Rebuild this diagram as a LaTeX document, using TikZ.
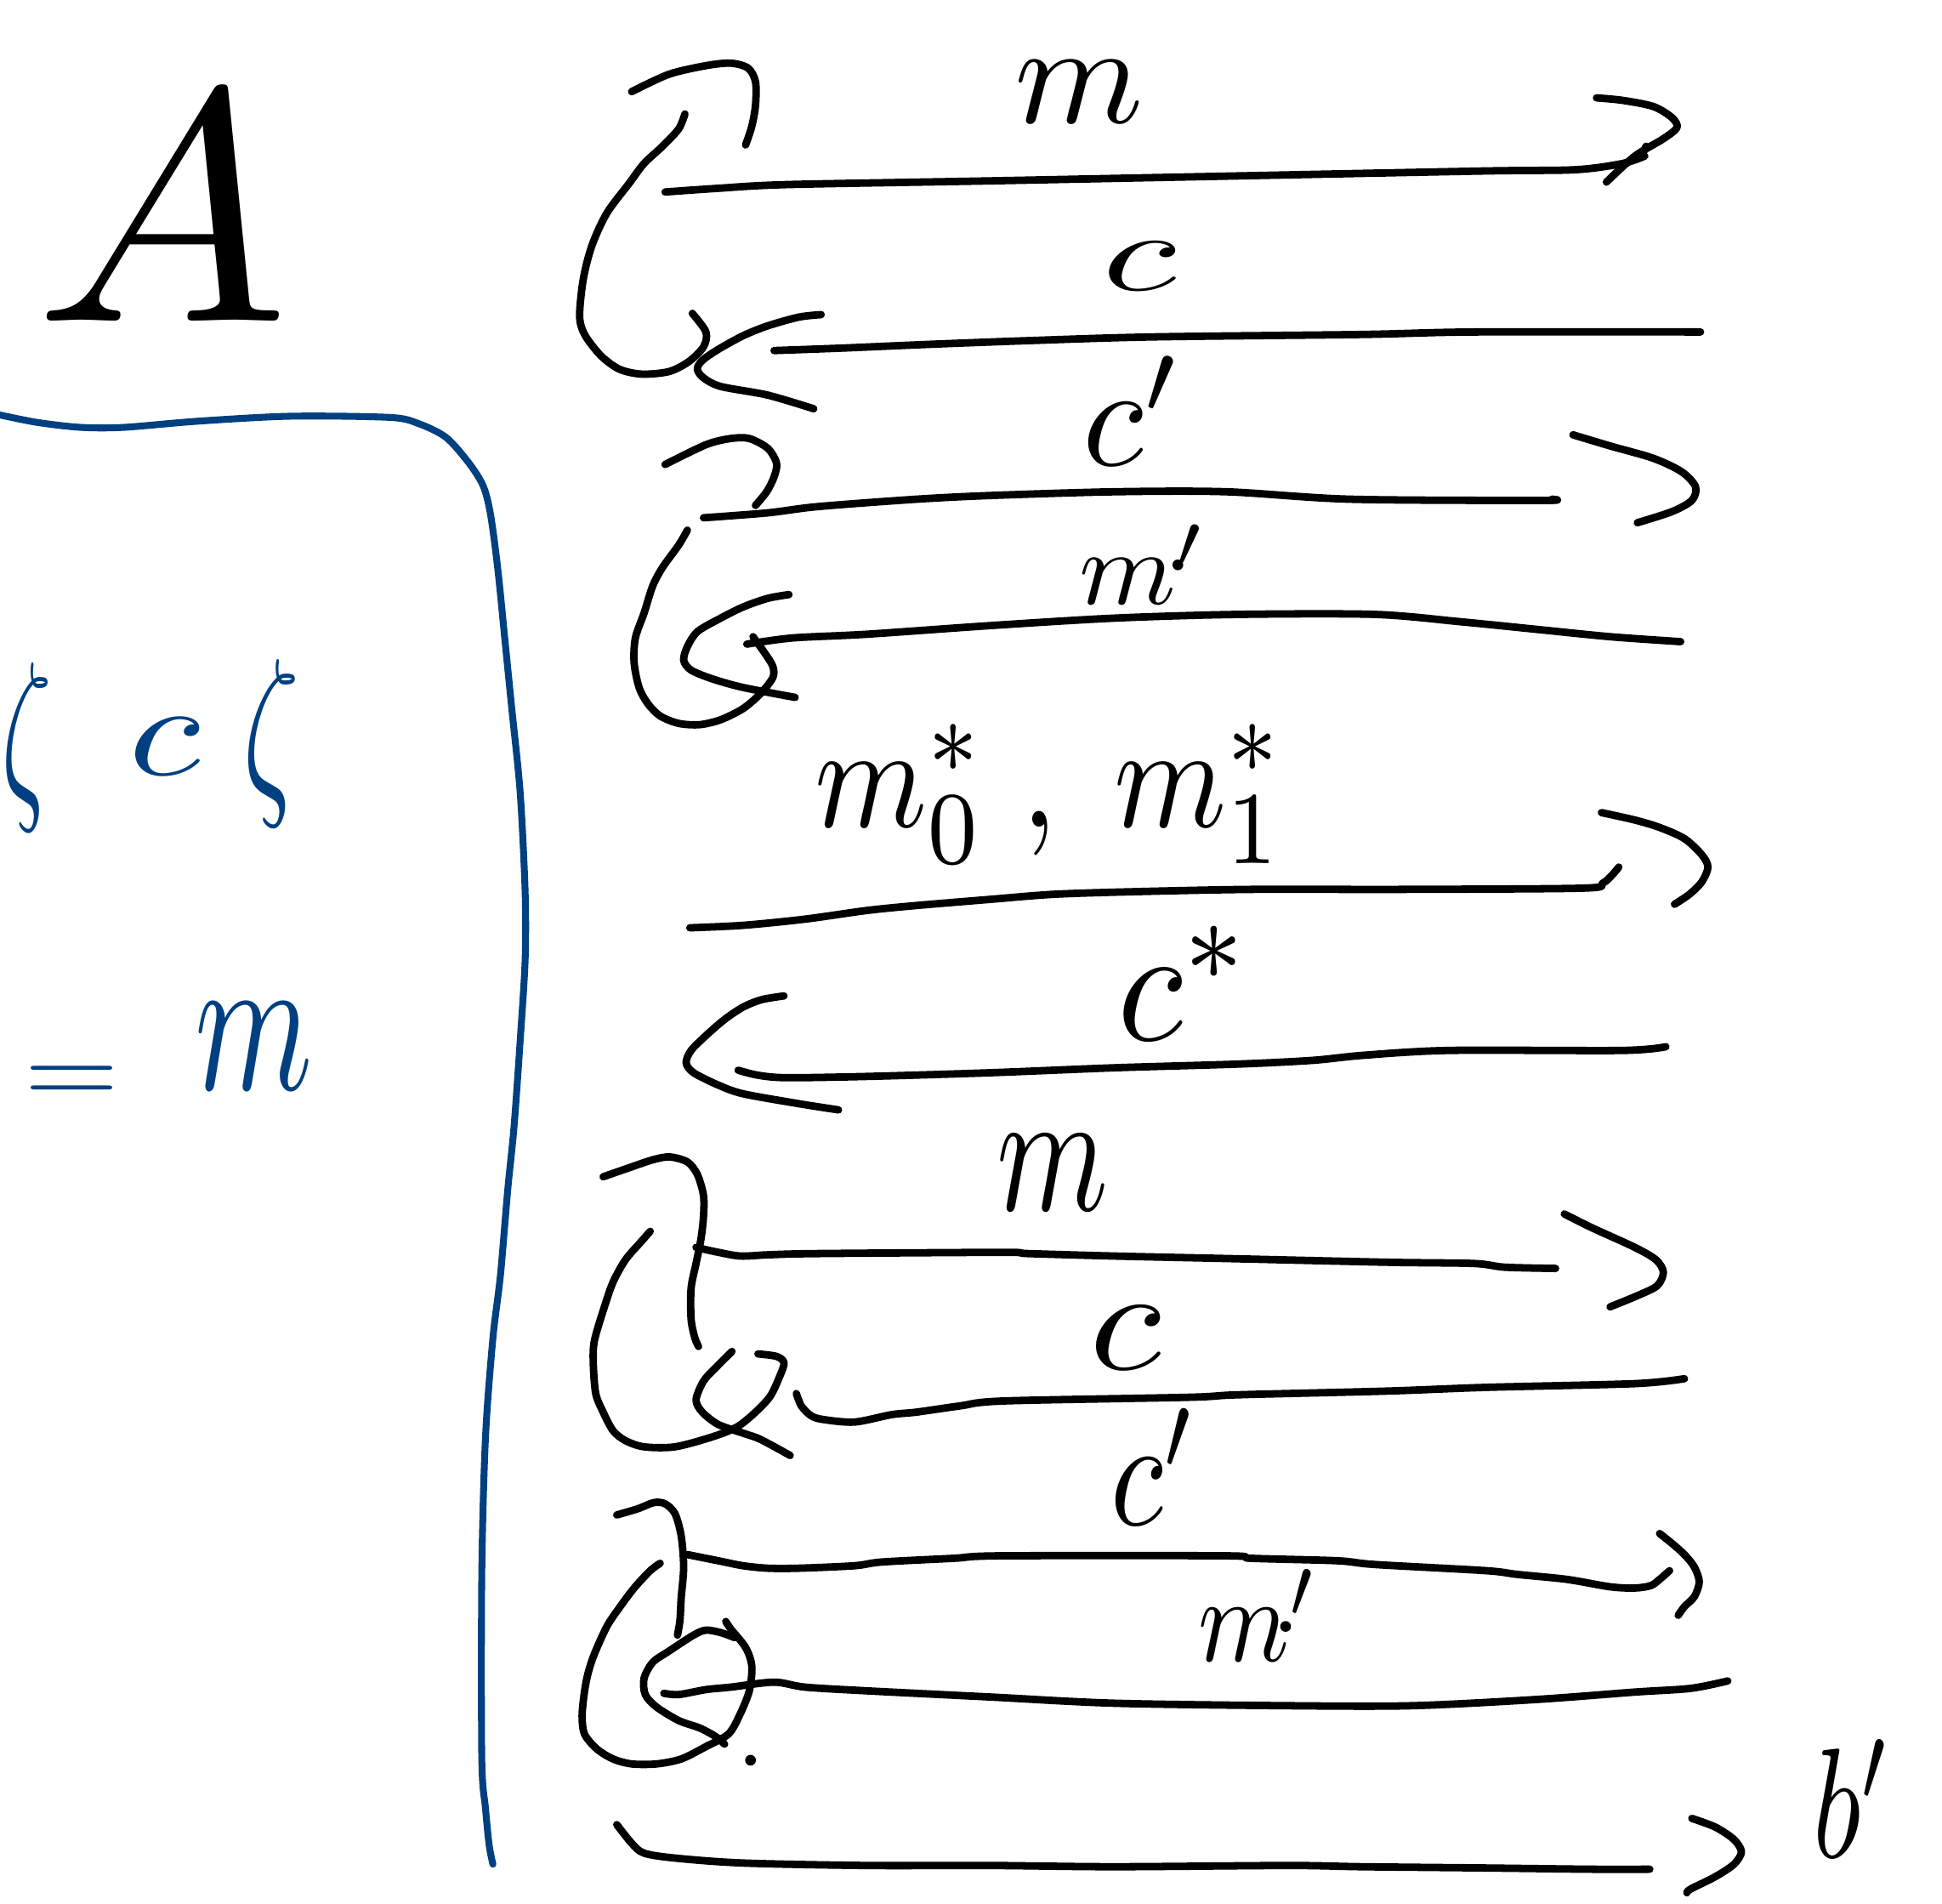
\documentclass[tikz,border=0pt]{standalone}
\usepackage{graphicx}
\definecolor{blueink}{RGB}{0,64,128}
\newlength\un
\setlength\un{0.4144pt}
\begin{document}
\begin{tikzpicture}[x=0.014566cm,y=-0.014566cm,
  ink/.style={line width=2.5pt,line cap=round,line join=round},
  bink/.style={ink,draw=blueink,line width=2.3pt},
  lbl/.style={inner sep=0pt,outer sep=0pt},
  blbl/.style={lbl,text=blueink},
  pt/.style={fill=black,inner sep=0pt,minimum size=3.6pt,circle}]
\useasboundingbox (0,0) rectangle (1568,1537);
\clip (0,0) rectangle (1568,1537);

% ---------------- A ----------------
\node[lbl] (A) at (131,168) {\resizebox{205\un}{182\un}{$A$}};

% ---------------- blue box ----------------
\draw[bink] plot[smooth,tension=0.5] coordinates {(0,335) (30,341) (65,345) (100,345) (160,340) (235,336) (315,337) (338,342) (360,353) (378,373) (390,392) (396,415) (402,460) (408,520) (413,570) (420,640) (424,720) (424,775) (420,840) (415,910) (410,960) (404,1030) (398,1080) (392,1160) (389,1270) (389,1420) (392,1460) (395,1490) (398,1505)};
\node[blbl] (z1) at (22,603) {\resizebox*{40\un}{136\un}{$\zeta$}};
\node[blbl] (bc) at (133,603) {\resizebox{58\un}{46\un}{$c$}};
\node[blbl] (z2) at (219,600) {\resizebox*{45\un}{135\un}{$\zeta$}};
\node[blbl] (eq) at (58,876) {\resizebox{77\un}{30\un}{$=$}};
\node[blbl] (bm) at (205,845) {\resizebox{95\un}{70\un}{$m$}};

% ---------------- message 1: m ----------------
\coordinate (s1) at (537,155); \coordinate (e1) at (1328,126);
\draw[ink] plot[smooth,tension=0.5] coordinates {(s1) (580,152) (636,149) (800,146) (1000,142) (1200,138) (1272,137) (1310,132) (e1)};
\draw[ink] plot[smooth,tension=0.5] coordinates {(1289,79) (1310,81) (1335,86) (1350,95) (1354,103) (1343,112) (1320,126) (1297,147)};
\draw[ink] (1329,118) -- (1326,125);
\node[lbl] (m1) at (871,74) {\resizebox{104\un}{50\un}{$m$}};

% loop 1
\draw[ink] plot[smooth,tension=0.5] coordinates {(510,74) (540,60) (570,53) (590,51) (604,55) (610,66) (610,85) (607,102) (602,117)};
\draw[ink] plot[smooth,tension=0.5] coordinates {(553,92) (548,104) (535,118) (520,132) (508,148) (490,172) (478,198) (471,225) (468,255) (472,270) (485,287) (500,298) (518,302) (540,300) (556,292) (568,280) (570,268) (559,253)};

% ---------------- message 2: c ----------------
\coordinate (s2) at (1373,268); \coordinate (e2) at (625,283);
\draw[ink] plot[smooth,tension=0.5] coordinates {(e2) (680,281) (750,278) (830,275) (930,272) (1100,270) (1190,268) (s2)};
\draw[ink] plot[smooth,tension=0.5] coordinates {(663,254) (645,256) (620,263) (600,271) (580,282) (567,291) (563,298) (568,305) (582,312) (620,319) (657,330)};
\node[lbl] (c2) at (920,215) {\resizebox{60\un}{39\un}{$c$}};

% ---------------- message 3: c' ----------------
\coordinate (s3) at (568,418); \coordinate (e3) at (1253,403);
\draw[ink] plot[smooth,tension=0.5] coordinates {(s3) (620,414) (660,409) (740,403) (800,400) (900,397) (990,397) (1090,403) (1245,404) (e3)};
\draw[ink] plot[smooth,tension=0.5] coordinates {(1270,351) (1300,360) (1335,370) (1358,381) (1369,393) (1366,404) (1350,413) (1322,422)};
\node[lbl] (c3) at (915,332) {\resizebox{81\un}{88\un}{$c'$}};

% loop 2
\draw[ink] plot[smooth,tension=0.5] coordinates {(537,375) (570,359) (590,354) (605,354) (620,362) (627,374) (625,385) (619,397) (610,408)};
\draw[ink] plot[smooth,tension=0.5] coordinates {(555,428) (548,440) (535,458) (527,473) (520,495) (513,515) (512,535) (516,555) (523,568) (533,578) (548,584) (565,585) (582,581) (600,572) (614,560) (624,547) (624,538) (618,528) (608,514)};

% ---------------- message 4: m' ----------------
\coordinate (s4) at (1357,518); \coordinate (e4) at (603,520);
\draw[ink] plot[smooth,tension=0.5] coordinates {(e4) (640,515) (700,512) (800,505) (900,499) (1000,496) (1110,496) (1180,502) (1240,508) (1300,514) (s4)};
\draw[ink] plot[smooth,tension=0.5] coordinates {(637,480) (620,483) (600,490) (580,500) (563,510) (555,522) (552,533) (558,541) (575,548) (600,555) (642,563)};
\node[lbl] (m4) at (923,456) {\resizebox{103\un}{64\un}{$m'$}};
\node[pt] (d1) at (951,456) {};

% ---------------- message 5: m0*, m1* ----------------
\coordinate (s5) at (557,749); \coordinate (e5) at (1307,700);
\draw[ink] plot[smooth,tension=0.5] coordinates {(s5) (600,747) (650,742) (700,735) (740,731) (800,726) (850,722) (910,720) (1010,718) (1130,718) (1278,717) (1294,713) (1302,706) (e5)};
\draw[ink] plot[smooth,tension=0.5] coordinates {(1293,656) (1320,662) (1340,668) (1360,677) (1374,690) (1379,700) (1374,712) (1364,722) (1352,730)};
\node[lbl] (m5) at (848,641) {\resizebox*{380\un}{112\un}{$m_0^*\;,\;m_1^*$}};

% ---------------- message 6: c* ----------------
\coordinate (s6) at (1345,845); \coordinate (e6) at (596,864);
\draw[ink] plot[smooth,tension=0.5] coordinates {(e6) (612,868) (635,870) (700,869) (800,866) (900,862) (1000,859) (1060,856) (1100,852) (1170,848) (1310,848) (s6)};
\draw[ink] plot[smooth,tension=0.5] coordinates {(633,804) (615,807) (600,813) (585,823) (570,836) (558,848) (554,858) (560,866) (580,876) (600,883) (645,891) (677,896)};
\node[lbl] (c6) at (957,794) {\resizebox{109\un}{92\un}{$c^*$}};

% ---------------- message 7: m ----------------
\coordinate (s7) at (562,1007); \coordinate (e7) at (1256,1024);
\draw[ink] plot[smooth,tension=0.5] coordinates {(s7) (580,1011) (598,1014) (620,1013) (660,1012) (810,1011) (830,1012) (900,1014) (990,1016) (1120,1019) (1190,1020) (1215,1023) (e7)};
\draw[ink] plot[smooth,tension=0.5] coordinates {(1263,980) (1285,991) (1320,1007) (1337,1017) (1343,1027) (1338,1038) (1322,1046) (1300,1055)};
\node[lbl] (m7) at (850,947) {\resizebox{90\un}{61\un}{$m$}};

% loop 3
\draw[ink] plot[smooth,tension=0.5] coordinates {(487,950) (510,942) (528,936) (541,934) (555,938) (563,948) (568,965) (568,982) (566,1000) (562,1020) (558,1040) (558,1065) (561,1080) (564,1087)};
\draw[ink] plot[smooth,tension=0.5] coordinates {(525,994) (518,1002) (505,1017) (495,1035) (488,1055) (480,1082) (479,1100) (481,1125) (487,1140) (495,1155) (505,1163) (520,1168) (545,1168) (575,1160) (595,1152) (610,1140) (622,1127) (630,1110) (633,1100) (627,1095) (612,1093)};

% ---------------- message 8: c ----------------
\coordinate (s8) at (1360,1113); \coordinate (e8) at (643,1125);
\draw[ink] plot[smooth,tension=0.5] coordinates {(e8) (647,1135) (655,1143) (665,1146) (690,1148) (720,1142) (740,1140) (775,1135) (810,1131) (960,1128) (1000,1126) (1120,1123) (1200,1120) (1320,1117) (s8)};
\draw[ink] plot[smooth,tension=0.5] coordinates {(591,1091) (578,1104) (568,1115) (562,1130) (567,1140) (580,1150) (600,1157) (614,1162) (638,1175)};
\node[lbl] (c8) at (909,1080) {\resizebox{58\un}{51\un}{$c$}};

% ---------------- message 9: c' ----------------
\coordinate (s9) at (555,1255); \coordinate (e9) at (1348,1268);
\draw[ink] plot[smooth,tension=0.5] coordinates {(s9) (580,1260) (600,1264) (620,1266) (645,1266) (690,1264) (712,1261) (770,1258) (808,1256) (990,1256) (1010,1258) (1080,1260) (1110,1263) (1200,1268) (1225,1271) (1265,1275) (1300,1281) (1320,1282) (1333,1280) (1340,1275) (e9)};
\draw[ink] plot[smooth,tension=0.5] coordinates {(1340,1238) (1350,1246) (1360,1255) (1368,1265) (1372,1277) (1368,1289) (1360,1297) (1355,1304)};
\node[lbl] (c9) at (932,1184) {\resizebox{70\un}{94\un}{$c'$}};

% loop 4
\draw[ink] plot[smooth,tension=0.5] coordinates {(498,1223) (515,1218) (528,1213) (537,1214) (545,1222) (550,1240) (552,1265) (550,1290) (549,1308) (547,1320)};
\draw[ink] plot[smooth,tension=0.5] coordinates {(533,1262) (525,1268) (512,1282) (500,1298) (490,1313) (480,1335) (475,1350) (472,1365) (470,1385) (472,1400) (482,1412) (495,1420) (510,1424) (530,1424) (550,1420) (570,1410) (588,1400) (597,1385) (605,1365) (607,1345) (602,1330) (590,1315) (586,1309)};

% ---------------- message 10: m' ----------------
\coordinate (s10) at (1395,1357); \coordinate (e10) at (536,1367);
\draw[ink] plot[smooth,tension=0.5] coordinates {(e10) (548,1368) (570,1364) (590,1362) (625,1358) (650,1362) (700,1365) (800,1370) (900,1375) (1040,1377) (1140,1377) (1240,1372) (1320,1366) (1365,1363) (s10)};
\draw[ink] plot[smooth,tension=0.5] coordinates {(593,1322) (582,1318) (570,1316) (560,1320) (540,1333) (527,1342) (520,1355) (521,1368) (530,1378) (548,1389) (565,1395) (578,1402) (585,1408)};
\node[lbl] (m10) at (1016,1304) {\resizebox{97\un}{74\un}{$m'$}};
\node[pt] (d2) at (1038,1313) {};
\node[pt] (d3) at (606,1421) {};

% ---------------- message 11: b' ----------------
\coordinate (s11) at (498,1473); \coordinate (e11) at (1332,1509);
\draw[ink] plot[smooth,tension=0.5] coordinates {(s11) (510,1488) (520,1496) (545,1500) (600,1504) (700,1506) (800,1506) (900,1507) (1040,1506) (1100,1507) (1200,1508) (1285,1509) (e11)};
\draw[ink] plot[smooth,tension=0.5] coordinates {(1366,1468) (1385,1475) (1400,1485) (1406,1495) (1400,1505) (1385,1515) (1365,1525) (1362,1528)};
\node[lbl] (b) at (1496,1452) {\resizebox{64\un}{95\un}{$b'$}};
\end{tikzpicture}
\end{document}
